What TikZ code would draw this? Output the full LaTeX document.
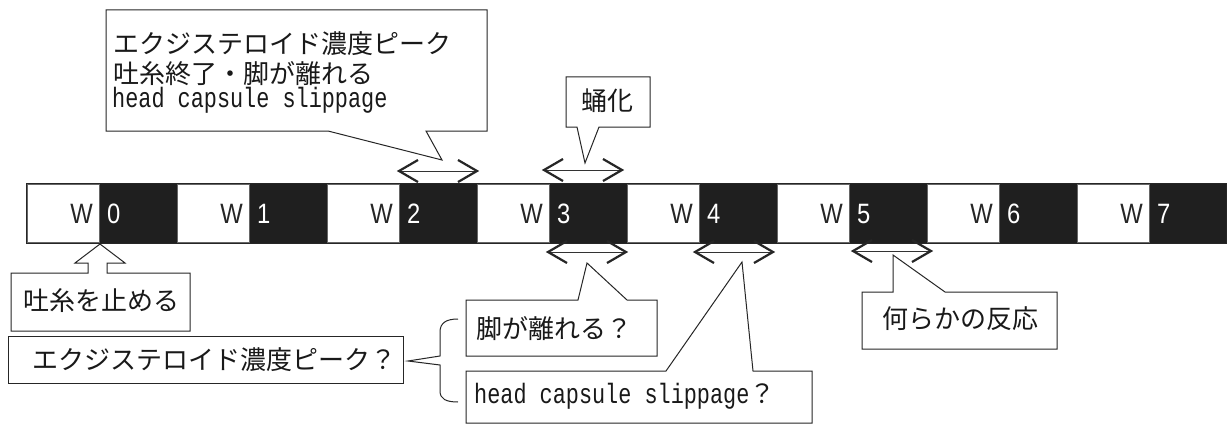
\documentclass[tikz,border=0pt]{standalone}
\usepackage{fontspec}
\newfontfamily\jp{Noto Sans CJK JP}
\newfontfamily\lmono[FakeStretch=0.78]{Liberation Mono}
\newfontfamily\arialn[FakeStretch=0.85]{Liberation Sans}
\tikzset{
  ink/.style={draw=black!85, line width=1pt, line join=miter},
  shaft/.style={draw=black!80, line width=1pt},
  chev/.style={draw=black!85, line width=2.2pt, line join=miter},
  jtext/.style={inner sep=0pt, font=\jp\fontsize{26}{30}\selectfont, text=black!90},
  mtext/.style={inner sep=0pt, font=\lmono\fontsize{28}{30}\selectfont, text=black!90},
  wlab/.style={inner sep=0pt, font=\arialn\fontsize{28}{30}\selectfont, text=black!85},
  dlab/.style={inner sep=0pt, font=\arialn\fontsize{28}{30}\selectfont, text=white},
  seg/.style={fill=black!88, draw=black!85, line width=1pt},
  whitebox/.style={fill=white, draw=black!60, line width=0.6pt},
}
\newcommand\dblarrow[2]{%
  \draw[shaft] (#1) -- (#2);
  \draw[chev] ([shift={(19,-11)}]#1) -- (#1) -- ([shift={(19,11)}]#1);
  \draw[chev] ([shift={(-19,-11)}]#2) -- (#2) -- ([shift={(-19,11)}]#2);
}
\begin{document}
\begin{tikzpicture}[x=1pt,y=-1pt]
\useasboundingbox (0,0) rectangle (1230,425);
\fill[white] (0,0) rectangle (1230,425);
% bar
\draw[seg] (26,183) rectangle (1226,243);
\foreach \i in {0,...,7} {
  \draw[whitebox] ({26+150*\i+1},184) rectangle ({26+150*\i+73},242);
  \node[wlab, anchor=east] (w\i) at ({26+150*\i+67},214) {W};
  \node[dlab, anchor=west] (d\i) at ({26+150*\i+81},214) {\i};
}
% big callout
\draw[ink, fill=white] (106,10) -- (487,10) -- (487,131) -- (426,131) -- (442,160) -- (328,131) -- (106,131) -- cycle;
\node[jtext, anchor=west] (big1) at (113,44) {エクジステロイド濃度ピーク};
\node[jtext, anchor=west] (big2) at (113,74) {吐糸終了・脚が離れる};
\node[mtext, anchor=base west] (big3) at (112,108) {head capsule slippage};
% pupation
\draw[ink, fill=white] (566,77) -- (650,77) -- (650,127) -- (599,127) -- (585,163) -- (577,127) -- (566,127) -- cycle;
\node[jtext, anchor=west] (yoka) at (581,101) {蛹化};
% stop spinning
\draw[ink, fill=white] (88,273) -- (88,263) -- (75,263) -- (100,244) -- (125,263) -- (107,263) -- (107,273) -- (190,273) -- (190,331) -- (11,331) -- (11,273) -- cycle;
\node[jtext, anchor=west] (toshi) at (23,301) {吐糸を止める};
% ecdysteroid peak ?
\draw[ink, fill=white] (8,336) rectangle (403,383);
\node[jtext, anchor=west] (ecd) at (32,360) {エクジステロイド濃度ピーク？};
% brace
\draw[ink] (458,319) .. controls (446,319) and (440,323) .. (440,332) -- (440,356) -- (408,361) -- (440,365) -- (440,391) .. controls (440,399) and (446,402) .. (458,402);
% legs ?
\draw[ink, fill=white] (466,300) -- (578,300) -- (587,263) -- (627,300) -- (657,300) -- (657,356) -- (466,356) -- cycle;
\node[jtext, anchor=west] (ashi) at (476,329) {脚が離れる？};
% head capsule slippage ?
\draw[ink, fill=white] (466,371) -- (666,371) -- (742,262) -- (753,371) -- (812,371) -- (812,423) -- (466,423) -- cycle;
\node[mtext, anchor=base west] (hcs) at (474,403) {head capsule slippage\jp\fontsize{26}{30}\selectfont ？};
% some reaction
\draw[ink, fill=white] (862,292) -- (893,292) -- (893,255) -- (945,292) -- (1057,292) -- (1057,349) -- (862,349) -- cycle;
\node[jtext, anchor=west] (nanika) at (882,319) {何らかの反応};
% span arrows
\coordinate (a1L) at (399,171); \coordinate (a1R) at (477,171);
\coordinate (a2L) at (544,170); \coordinate (a2R) at (622,170);
\coordinate (b1L) at (548,252); \coordinate (b1R) at (626,252);
\coordinate (b2L) at (695,252); \coordinate (b2R) at (773,252);
\coordinate (b3L) at (853,251); \coordinate (b3R) at (931,251);
\dblarrow{a1L}{a1R}
\dblarrow{a2L}{a2R}
\dblarrow{b1L}{b1R}
\dblarrow{b2L}{b2R}
\dblarrow{b3L}{b3R}
\end{tikzpicture}
\end{document}
